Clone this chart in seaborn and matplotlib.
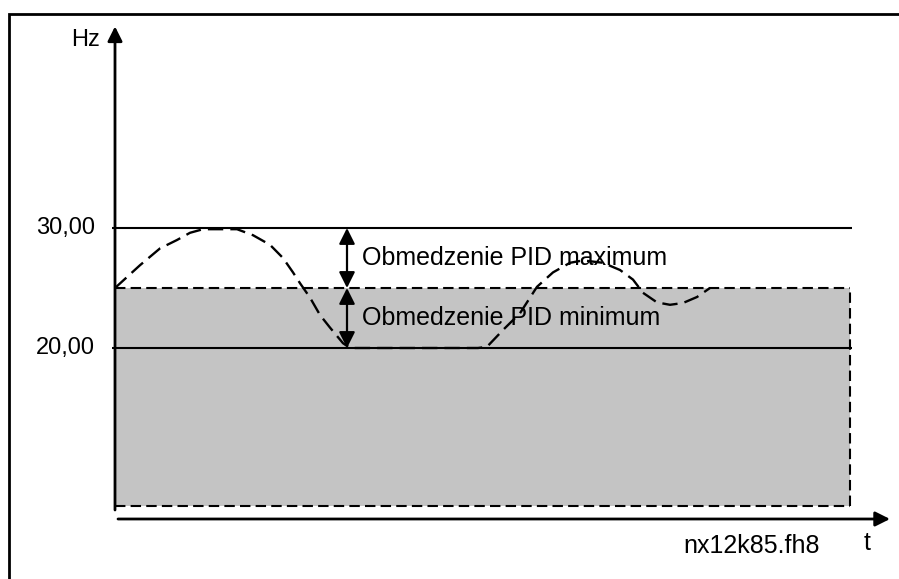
import matplotlib
matplotlib.use("Agg")
import matplotlib.pyplot as plt
from matplotlib.patches import Rectangle
import pandas as pd
import seaborn as sns

# ── data ─────────────────────────────────────────────────
t_vals  = [0.0, 2.5, 4.5, 6.2, 7.5, 8.8, 12.2, 13.8, 15.5, 16.8, 17.8, 18.5, 19.5,
           20.5, 21.5, 22.8, 23.5, 28.5, 33.5, 36.3, 37.2, 38.8, 40.5, 42.2, 43.8,
           45.5, 46.8, 48.8, 50.5, 51.8, 52.8, 54.2, 55.5, 56.8, 58.2, 59.5]
hz_vals = [25.0, 26.9, 28.3, 29.0, 29.6, 29.9, 29.9, 29.4, 28.6, 27.5, 26.3, 25.4, 24.2,
           22.75, 21.7, 20.4, 20.0, 20.0, 20.0, 20.0, 20.1, 21.5, 22.9, 25.1, 26.3,
           27.1, 27.3, 27.1, 26.5, 25.7, 24.6, 23.8, 23.6, 23.75, 24.25, 25.0]
limit_levels = [30.0, 20.0]
limit_labels = ["30,00", "20,00"]
band_t      = [0.0, 73.5]
band_hz     = [6.85, 25.0]
arrow_t     = 23.2
arrow_texts = ["Obmedzenie PID maximum", "Obmedzenie PID minimum"]

sns.set_theme(style="white")
plt.rcParams['font.family'] = ['Liberation Sans', 'DejaVu Sans']
plt.rcParams['text.color'] = 'black'

fig = plt.figure(figsize=(8.99, 5.79), dpi=100)
ax = fig.add_axes([0, 0, 1, 1])
ax.set_xlim(-11.5, 78.4)
ax.set_ylim(0.75, 49)
ax.axis("off")

# outer frame (runs off the right/bottom edge)
fig.patches.append(Rectangle((9 / 899, -0.1), 1.2, 1 - 14 / 579 + 0.1,
                             transform=fig.transFigure, fill=False,
                             edgecolor="black", linewidth=2, zorder=0))

# grey band with dashed border
ax.fill_between(band_t, band_hz[0], band_hz[1], color="#c4c4c4", linewidth=0, zorder=1)
dash = (0, (5, 2.5))
ax.plot([band_t[0], band_t[1]], [band_hz[1], band_hz[1]], color="black", lw=1.5, linestyle=dash, zorder=3)
ax.plot([band_t[0], band_t[1]], [band_hz[0], band_hz[0]], color="black", lw=1.5, linestyle=dash, zorder=3)
ax.plot([band_t[1], band_t[1]], [band_hz[0], band_hz[1]], color="black", lw=1.5, linestyle=dash, zorder=3)

# limit lines
ax.hlines(limit_levels, -0.3, 73.7, color="black", lw=1.5, zorder=3)
for lvl, lab in zip(limit_levels, limit_labels):
    ax.text(-2.0, lvl, lab, ha="right", va="center", fontsize=17)

# dashed frequency curve
curve = pd.DataFrame({"t": t_vals, "hz": hz_vals})
sns.lineplot(data=curve, x="t", y="hz", ax=ax, color="black", lw=1.7,
             linestyle=(0, (6.5, 3)), sort=False, zorder=4)

# double arrows showing the PID limits
mid = band_hz[1]
for top, bot in [(limit_levels[0], mid), (mid, limit_levels[1])]:
    ax.annotate("", xy=(arrow_t, top), xytext=(arrow_t, bot),
                arrowprops=dict(arrowstyle="<|-|>", color="black", lw=1.6,
                                mutation_scale=24, shrinkA=0, shrinkB=0), zorder=5)
ax.text(arrow_t + 1.5, (limit_levels[0] + mid) / 2, arrow_texts[0], ha="left", va="center", fontsize=18)
ax.text(arrow_t + 1.5, (mid + limit_levels[1]) / 2, arrow_texts[1], ha="left", va="center", fontsize=18)

# axes with arrow heads
ax.annotate("", xy=(0, 46.8), xytext=(0, 6.5),
            arrowprops=dict(arrowstyle="-|>", color="black", lw=2,
                            mutation_scale=22, shrinkA=0, shrinkB=0))
ax.annotate("", xy=(77.5, 5.75), xytext=(0.3, 5.75),
            arrowprops=dict(arrowstyle="-|>", color="black", lw=2,
                            mutation_scale=22, shrinkA=0, shrinkB=0))
ax.text(-2.9, 45.7, "Hz", ha="center", va="center", fontsize=17)
ax.text(75.2, 3.75, "t", ha="center", va="center", fontsize=18)
ax.text(56.8, 3.5, "nx12k85.fh8", ha="left", va="center", fontsize=18)

plt.savefig("out.png", dpi=100)
